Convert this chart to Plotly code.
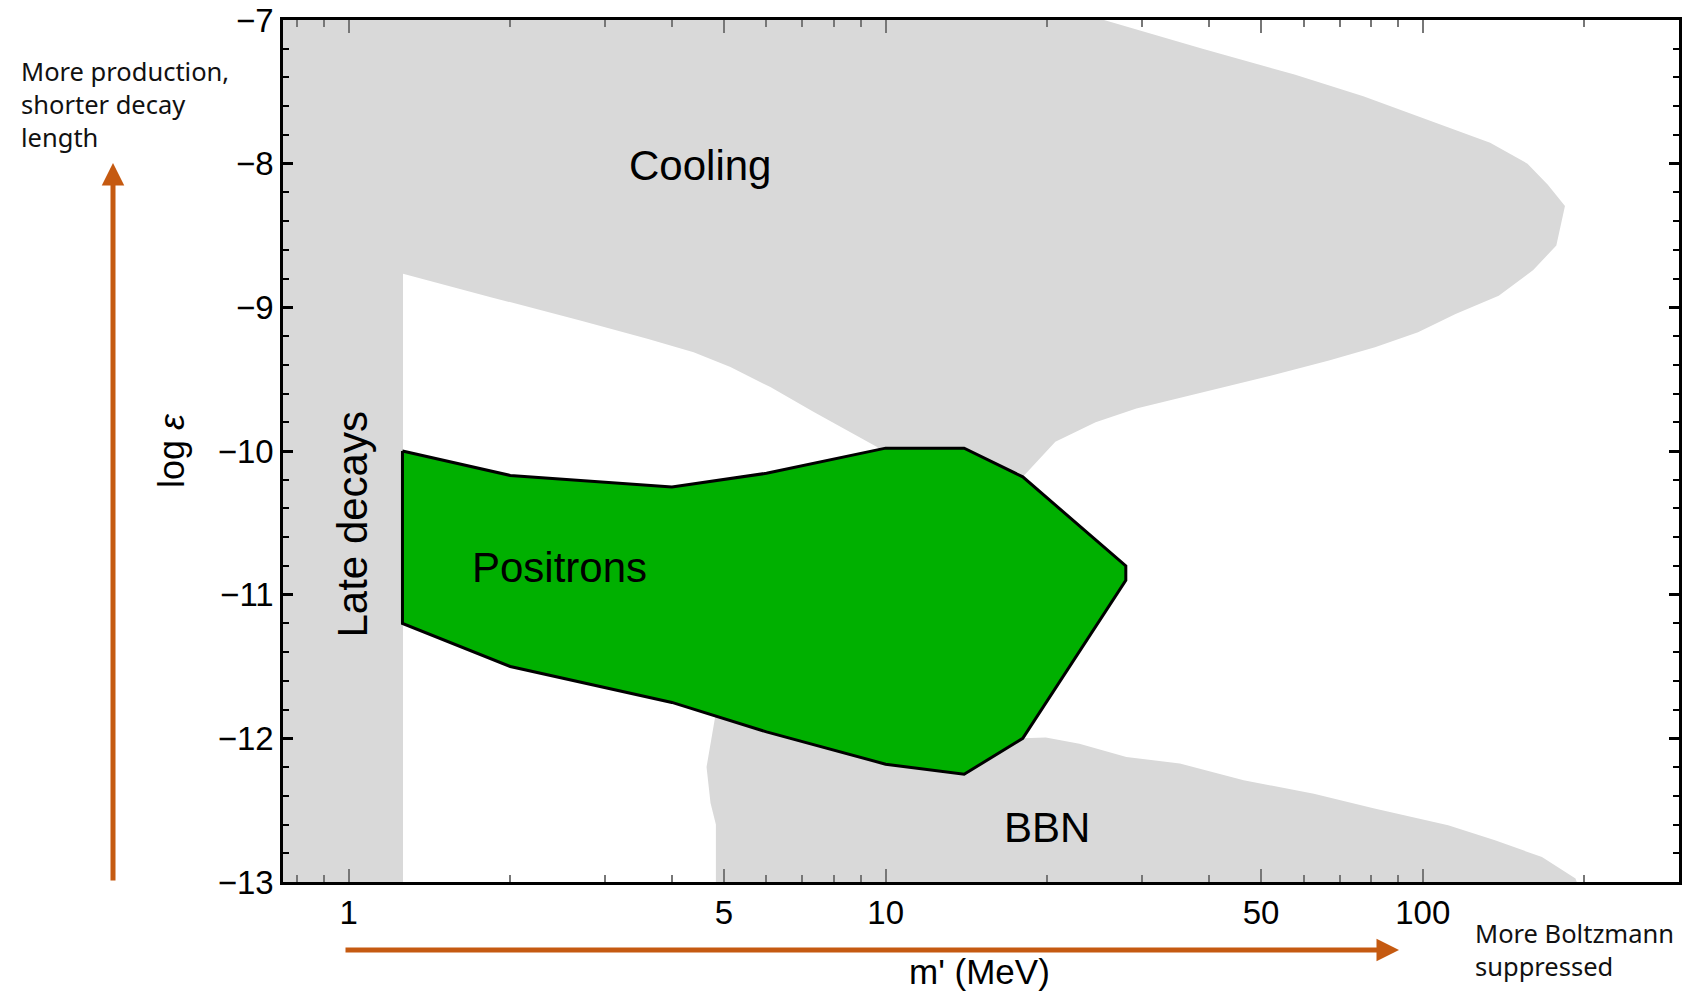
import numpy as np
import plotly.graph_objects as go

# ---------------- data ----------------
# Cooling bound (upper grey region) merged with the "late decays" band at low mass
cool_m = [0.7, 25.5, 38.9, 57.7, 77.5, 94.5, 112, 133.5, 156.7, 170.8, 184, 177.3, 160.6,
          138.5, 115.1, 98.0, 81.5, 66.9, 52.3, 38.9, 29.3, 24.6, 20.7, 17.5, 14, 10,
          9.64, 7.35, 6.10, 5.14, 4.39, 3.60, 2.70, 1.84, 1.263, 1.263, 0.7]
cool_y = [-7.0, -7.0, -7.20, -7.38, -7.53, -7.65, -7.75, -7.855, -8.0, -8.145, -8.295, -8.57, -8.74,
          -8.92, -9.046, -9.173, -9.277, -9.37, -9.474, -9.59, -9.705, -9.80, -9.936, -10.23, -10.1, -10.05,
          -9.973, -9.729, -9.555, -9.416, -9.312, -9.219, -9.091, -8.929, -8.766, -13.0, -13.0]

# BBN bound (lower grey region)
bbn_m = [4.83, 4.83, 4.72, 4.64, 4.83, 6.0, 10.0, 14.0, 18.0, 19.87, 22.95, 28.07, 35.3, 46.4,
         62.7, 81.3, 111.5, 136.3, 166.7, 192.5, 193.5]
bbn_y = [-13.0, -12.6, -12.45, -12.2, -11.82, -11.9, -12.1, -12.2, -12.0, -11.995, -12.037, -12.13,
         -12.176, -12.292, -12.385, -12.489, -12.605, -12.71, -12.826, -12.976, -13.0]

# Positron region (green)
pos_m = [1.26, 2.0, 4.0, 6.0, 10.0, 14.0, 18.0, 28.0, 28.0, 18.0, 14.0, 10.0, 6.0, 4.0, 2.0, 1.26, 1.26]
pos_y = [-10.0, -10.17, -10.25, -10.155, -9.98, -9.98, -10.18, -10.80, -10.90, -12.0, -12.25,
         -12.18, -11.955, -11.75, -11.50, -11.20, -10.0]

x_major = [1, 5, 10, 50, 100]
x_major_text = ["1", "5", "10", "50", "100"]
x_minor = [0.8, 0.9, 2, 3, 4, 6, 7, 8, 9, 20, 30, 40, 60, 70, 80, 90, 200, 300]
y_major = [-13, -12, -11, -10, -9, -8, -7]

region_labels = ["Cooling", "Positrons", "BBN"]
region_label_m = [4.51, 2.465, 20.0]
region_label_y = [-8.01, -10.81, -12.62]
late_label_m = 1.016
late_label_y = -10.51

# ---------------- figure ----------------
GREY = "#D9D9D9"
GREEN = "#00B000"
ORANGE = "#C55A11"
SANS = "Liberation Sans, Arial, sans-serif"
NOTE = "Noto Sans, Open Sans, sans-serif"

fig = go.Figure()
fig.add_trace(go.Scatter(x=cool_m, y=cool_y, mode="lines", fill="toself", fillcolor=GREY,
                         line=dict(width=0, color=GREY), hoverinfo="skip", showlegend=False))
fig.add_trace(go.Scatter(x=bbn_m, y=bbn_y, mode="lines", fill="toself", fillcolor=GREY,
                         line=dict(width=0, color=GREY), hoverinfo="skip", showlegend=False))
fig.add_trace(go.Scatter(x=pos_m, y=pos_y, mode="lines", fill="toself", fillcolor=GREEN,
                         line=dict(width=3, color="black"), hoverinfo="skip", showlegend=False))

W, H = 1701, 994
ml, mr, mt, mb = 283, 22, 20, 112
pw, ph = W - ml - mr, H - mt - mb


def px(xp):
    return (xp - ml) / pw


def py(yp):
    return (H - mb - yp) / ph


ann = []
for t, m, y in zip(region_labels, region_label_m, region_label_y):
    ann.append(dict(x=np.log10(m), y=y, xref="x", yref="y", text=t, showarrow=False,
                    xanchor="center", yanchor="middle",
                    font=dict(family=SANS, size=42, color="black")))
ann.append(dict(x=np.log10(late_label_m), y=late_label_y, xref="x", yref="y", text="Late decays",
                xanchor="center", yanchor="middle",
                textangle=-90, showarrow=False, font=dict(family=SANS, size=42, color="black")))
# axis titles
ann.append(dict(x=px(979), y=py(971), xref="paper", yref="paper", text="m' (MeV)", showarrow=False,
                xanchor="center", yanchor="middle",
                font=dict(family=SANS, size=35, color="black")))
ann.append(dict(x=px(171), y=py(451), xref="paper", yref="paper", text="log <i>ε</i>", textangle=-90,
                xanchor="center", yanchor="middle",
                showarrow=False, font=dict(family=SANS, size=36, color="black")))
# side notes
ann.append(dict(x=px(19), y=py(104), xref="paper", yref="paper", xanchor="left", yanchor="middle",
                align="left", text="More production,<br>shorter decay<br>length", showarrow=False,
                font=dict(family=NOTE, size=25.5, color="#111111")))
ann.append(dict(x=px(1473), y=py(950), xref="paper", yref="paper", xanchor="left", yanchor="middle",
                align="left", text="More Boltzmann<br>suppressed", showarrow=False,
                font=dict(family=NOTE, size=25.5, color="#111111")))
# arrows
ann.append(dict(x=px(113), y=py(163), xref="paper", yref="paper", ax=0, ay=882 - 163, text="",
                showarrow=True, arrowhead=2, arrowsize=0.9, arrowwidth=5, arrowcolor=ORANGE, standoff=0))
ann.append(dict(x=px(1399), y=py(950), xref="paper", yref="paper", ax=-(1399 - 344), ay=0, text="",
                showarrow=True, arrowhead=2, arrowsize=0.9, arrowwidth=5, arrowcolor=ORANGE, standoff=0))

fig.update_layout(
    width=W, height=H,
    margin=dict(l=ml, r=mr, t=mt, b=mb, pad=0, autoexpand=False),
    paper_bgcolor="white", plot_bgcolor="white",
    annotations=ann,
    xaxis=dict(type="log", range=[np.log10(0.755), np.log10(300)], automargin=False,
               tickmode="array", tickvals=x_major, ticktext=x_major_text,
               ticks="inside", ticklen=13, tickwidth=1.5, tickcolor="#777777",
               showline=True, linewidth=2.5, linecolor="black", mirror="allticks",
               showgrid=False, zeroline=False,
               tickfont=dict(family=SANS, size=33, color="black"),
               minor=dict(tickmode="array", tickvals=x_minor, ticks="inside", ticklen=7,
                          tickwidth=1.5, tickcolor="#777777", showgrid=False)),
    yaxis=dict(range=[-13, -7], tickmode="array", tickvals=y_major, automargin=False,
               ticks="inside", ticklen=10, tickwidth=2.5, tickcolor="black",
               showline=True, linewidth=2.5, linecolor="black", mirror="allticks",
               showgrid=False, zeroline=False,
               tickfont=dict(family=SANS, size=33, color="black"),
               minor=dict(dtick=0.2, ticks="inside", ticklen=6, tickwidth=2,
                          tickcolor="black", showgrid=False)),
)

fig.write_html("out.html", config={"displayModeBar": False},
               post_script="document.body.style.margin='0px';document.body.style.overflow='hidden';")
